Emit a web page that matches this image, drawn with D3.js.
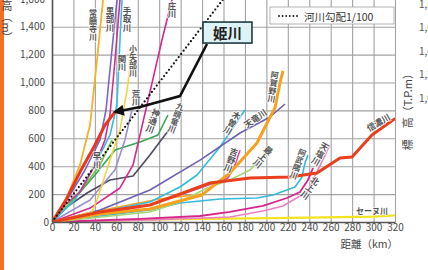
<!DOCTYPE html>
<meta charset="utf-8">
<script src="https://d3js.org/d3.v7.min.js"></script>
<style>
  body { margin: 0; background: #fff; }
  svg { display: block; font-family: "Noto Sans CJK JP", "Noto Sans", sans-serif; }
</style>
<div id="my_dataviz"></div>
<script>

// river profiles: [distance from mouth (km), elevation (m)]
var joganji  = [[0,0],[14.9,194],[26.1,409],[35.5,695],[42.0,1161],[47.6,1591],[48.5,1700]];
var kurobe   = [[0,0],[16.8,194],[30.8,373],[44.8,588],[50.4,803],[55.0,1161],[60.6,1591],[61.5,1700]];
var tedori   = [[0,0],[12.1,122],[26.1,215],[40.1,409],[49.4,588],[54.1,767],[58.8,1161],[63.4,1591],[64.5,1700]];
var sekikawa = [[0,0],[21.5,158],[40.1,409],[54.1,624],[60.6,839],[63.4,1305],[65.3,1591],[65.6,1700]];
var himekawa = [[0,0],[13.1,158],[26.1,358],[40.1,552],[49.4,695],[58.8,789]];
var oyabe    = [[0,0],[37.3,72],[42.0,158],[54.1,445],[63.4,660],[70.0,946],[75.6,1269]];
var arakawa  = [[0,0],[35.5,158],[58.8,374],[68.1,590],[74.6,805]];
var hayakawa = [[0,0],[14.9,122],[30.8,266],[44.8,409],[56.0,588]];
var shokawa  = [[0,0],[35.5,100],[63.4,244],[75.6,409],[82.1,624],[93.3,996],[102.6,1305],[111.9,1591],[113.5,1700]];
var kuzuryu  = [[0,0],[14.0,108],[32.7,208],[54.1,301],[75.6,330],[91.4,480],[105.4,624],[119.4,753]];
var jinzu    = [[0,0],[21.5,172],[40.1,337],[58.8,516],[82.1,573],[98.9,624],[108.2,767]];
var tenryu   = [[0,0],[44.8,86],[91.4,229],[138.1,444],[175.4,638],[203.4,753],[217.4,846]];
var kiso     = [[0,0],[44.8,72],[91.4,143],[119.4,251],[135.3,337],[156.7,538],[170.7,695],[180.0,803]];
var agano    = [[0,0],[44.8,57],[91.4,93],[139.9,194],[166.0,351],[191.2,566],[200.6,710],[208.0,818],[212.7,997],[215.5,1083]];
var shinano  = [[0,0],[44.8,72],[91.4,122],[122.2,208],[147.4,280],[184.7,316],[222.0,323],[247.2,351],[268.7,459],[279.9,466],[298.5,624],[318.1,731],[325,760]];
var seine    = [[0,0],[100,18],[222,29],[300,38],[320,48]];
var kitakami = [[0,0],[82.1,22],[138.1,43],[166.0,72],[196.8,115],[219.2,172],[231.3,215],[238.8,301],[243.5,387]];
var teshio   = [[0,0],[91.4,14],[166.0,36],[196.8,79],[215.5,115],[237.9,215],[248.1,373],[259.3,552]];
var abukuma  = [[0,0],[44.8,43],[91.4,86],[119.4,136],[156.7,165],[191.2,172],[206.2,194],[226.7,251],[233.2,323],[236.0,423],[238.8,480]];
var mogami   = [[0,0],[91.4,72],[119.4,143],[144.6,244],[166.0,301],[184.7,373],[196.8,466],[206.2,531]];
var yoshino  = [[0,0],[44.8,57],[91.4,122],[138.1,244],[164.2,316],[170.7,409],[175.4,516]];
var otherRiver = [[0,0],[50,90],[100,165],[140,200]];

// 1/100 river gradient reference
var gradient100 = [[0,0],[170,1700]];

var xTicks = [0,20,40,60,80,100,120,140,160,180,200,220,240,260,280,300,320];
var yTicks = [0,200,400,600,800,1000,1200,1400,1600];

// label text and where it sits (km, m)
var labelText = ["常願寺川","黒部川","手取川","小矢部川","関川","荒川","庄川","早川","神通川","九頭竜川",
                 "木曽川","吉野川","天竜川","阿賀野川","最上川","阿武隈川","天塩川","北上川","信濃川","セーヌ川"];
var labelAt   = [[38.2,1412],[54.1,1455],[70.0,1455],[75.6,1154],[65.3,1140],[78.4,889],[112,1520],[42,444],[94.2,724],[115.7,746],
                 [167.9,710],[167,444],[189.4,746],[206.2,968],[196.8,466],[229.5,416],[250,487],[240.7,244],[304.1,717],[298.5,86]];
var labelTurn = [0,0,0,0,0,0,0,0,20,20, 30,20,-35,8,40,20,30,35,-30,0];
var labelVert = [1,1,1,1,1,1,1,1,1,1, 1,1,0,1,1,1,1,1,0,0];

// line styles (drawn in this order)
var series = [
  {d: otherRiver, c: "#f5a623", w: 1.6},
  {d: seine,    c: "#f2e31e", w: 2.2},
  {d: teshio,   c: "#ea80c4", w: 1.6},
  {d: kitakami, c: "#d6258b", w: 1.8},
  {d: abukuma,  c: "#35b9db", w: 1.6},
  {d: mogami,   c: "#a3d67c", w: 1.6},
  {d: yoshino,  c: "#e0409c", w: 1.6},
  {d: kiso,     c: "#2fbbe0", w: 1.6},
  {d: tenryu,   c: "#6c61b2", w: 1.6},
  {d: kuzuryu,  c: "#4b4b5e", w: 1.6},
  {d: jinzu,    c: "#3aa655", w: 1.6},
  {d: hayakawa, c: "#6cc24a", w: 1.6},
  {d: arakawa,  c: "#9a8fd0", w: 1.6},
  {d: shokawa,  c: "#d4288c", w: 1.6},
  {d: oyabe,    c: "#f3d43e", w: 1.6},
  {d: sekikawa, c: "#2fc0e2", w: 1.6},
  {d: tedori,   c: "#d42f8e", w: 1.6},
  {d: kurobe,   c: "#7866c6", w: 1.6},
  {d: joganji,  c: "#f4b12a", w: 1.8},
  {d: agano,    c: "#f6a21e", w: 3},
  {d: shinano,  c: "#e8401c", w: 3},
  {d: himekawa, c: "#e8371e", w: 3}
];

var W = 428, H = 270;
var svg = d3.select("#my_dataviz").append("svg").attr("width", W).attr("height", H);

var x = d3.scaleLinear().domain([0, 320]).range([52, 395]);
var y = d3.scaleLinear().domain([0, 1600]).range([222, -1.2]);

// orange page edge
svg.append("rect").attr("x", 0).attr("y", 0).attr("width", 4).attr("height", H).attr("fill", "#f36f21");

// grid
svg.append("g").attr("transform", "translate(0,222)")
  .call(d3.axisBottom(x).tickValues(xTicks).tickSize(-224).tickFormat(""))
  .call(function(g) { g.select(".domain").remove(); })
  .selectAll("line").attr("stroke", "#a2a2a2").attr("stroke-width", 1.1);
svg.append("g").attr("transform", "translate(52,0)")
  .call(d3.axisLeft(y).tickValues(yTicks).tickSize(-343).tickFormat(""))
  .call(function(g) { g.select(".domain").remove(); })
  .selectAll("line").attr("stroke", "#a2a2a2").attr("stroke-width", 1.1);

// legend box
var lg = svg.append("g");
lg.append("rect").attr("x", 270).attr("y", 7).attr("width", 124).attr("height", 17)
  .attr("fill", "#fff").attr("stroke", "#a0a0a0").attr("stroke-width", 0.8);
lg.append("line").attr("x1", 279).attr("x2", 299).attr("y1", 16).attr("y2", 16)
  .attr("stroke", "#111").attr("stroke-width", 1.8).attr("stroke-linecap", "round").attr("stroke-dasharray", "0,3.6");
lg.append("text").attr("x", 304).attr("y", 16).attr("dominant-baseline", "central")
  .attr("font-size", 10.5).attr("fill", "#333").text("河川勾配1/100");

// clip to plot
svg.append("clipPath").attr("id", "plotclip").append("rect")
  .attr("x", 52).attr("y", -2).attr("width", 343).attr("height", 224);

var line = d3.line().x(function(d) { return x(d[0]); }).y(function(d) { return y(d[1]); });

var plot = svg.append("g").attr("clip-path", "url(#plotclip)");
plot.selectAll("path.river").data(series).enter().append("path")
  .attr("class", "river")
  .attr("d", function(s) { return line(s.d); })
  .attr("fill", "none")
  .attr("stroke", function(s) { return s.c; })
  .attr("stroke-width", function(s) { return s.w; })
  .attr("stroke-linejoin", "round");

plot.append("path").attr("d", line(gradient100))
  .attr("fill", "none").attr("stroke", "#111").attr("stroke-width", 2.2)
  .attr("stroke-linecap", "round").attr("stroke-dasharray", "0,4");

// axes
var xa = svg.append("g").attr("transform", "translate(0,222)")
  .call(d3.axisBottom(x).tickValues(xTicks).tickSize(0).tickPadding(2));
var ya = svg.append("g").attr("transform", "translate(52,0)")
  .call(d3.axisLeft(y).tickValues(yTicks).tickSize(0).tickPadding(7).tickFormat(d3.format(",")));
[xa, ya].forEach(function(a) {
  a.select(".domain").attr("stroke", "#555").attr("stroke-width", 1.6);
  a.selectAll("text").attr("font-size", 10).attr("fill", "#4a4a4a")
    .style("font-family", "'Noto Sans CJK JP', sans-serif");
});
ya.selectAll(".tick").filter(function(d) { return d === 0; }).select("text").attr("dx", 4);

// river labels
svg.append("g").selectAll("text").data(labelText).enter().append("text")
  .attr("transform", function(t, i) {
    return "translate(" + x(labelAt[i][0]) + "," + y(labelAt[i][1]) + ") rotate(" + labelTurn[i] + ")";
  })
  .attr("text-anchor", "middle")
  .attr("dominant-baseline", "central")
  .style("writing-mode", function(t, i) { return labelVert[i] ? "vertical-rl" : "horizontal-tb"; })
  .attr("font-size", function(t) { return t.length > 3 ? 8 : 8.5; })
  .attr("font-weight", 700)
  .attr("fill", "#555")
  .attr("stroke", "#fff").attr("stroke-width", 1.6).attr("stroke-opacity", 0.8)
  .attr("paint-order", "stroke")
  .text(function(t) { return t; });

// 姫川 callout
var tip = himekawa[himekawa.length - 1];
var callout = [[144.6,1276],[119.4,903],[82.1,824],tip];
var defs = svg.append("defs");
defs.append("marker").attr("id", "ah").attr("viewBox", "0 0 10 10")
  .attr("refX", 8).attr("refY", 5).attr("markerWidth", 12).attr("markerHeight", 11)
  .attr("markerUnits", "userSpaceOnUse").attr("orient", "auto")
  .append("path").attr("d", "M0,0L10,5L0,10z").attr("fill", "#111");
svg.append("path").attr("d", line(callout)).attr("fill", "none")
  .attr("stroke", "#111").attr("stroke-width", 2.6).attr("stroke-linejoin", "miter")
  .attr("marker-end", "url(#ah)");
var bx = x(163.7), by = y(1358);
svg.append("rect").attr("x", bx - 24.5).attr("y", by - 10.5).attr("width", 49).attr("height", 21)
  .attr("fill", "#ddf3f6").attr("stroke", "#1d3b40").attr("stroke-width", 1.6);
svg.append("text").attr("x", bx).attr("y", by).attr("text-anchor", "middle").attr("dominant-baseline", "central")
  .attr("font-size", 14.5).attr("font-weight", 700).attr("fill", "#222").text("姫川");

// axis titles
svg.append("text").attr("x", 7).attr("y", -10.5)
  .style("writing-mode", "vertical-rl").attr("font-size", 11).attr("fill", "#444").text("標高（m）");
svg.append("text").attr("x", 398).attr("y", 247.5).attr("text-anchor", "end")
  .attr("font-size", 10.5).attr("fill", "#444").text("距離（km）");

// neighbouring chart, cut at the right edge
var rightTicks = ["1,800","1,600","1,400","1,200","1,000"];
svg.append("g").selectAll("text").data(rightTicks).enter().append("text")
  .attr("x", 419).attr("y", function(d, i) { return 3 + i * 23.5; })
  .attr("dominant-baseline", "central").attr("font-size", 10).attr("fill", "#555").text(function(d) { return d; });
svg.append("text").attr("transform", "translate(407,68) rotate(-90)")
  .attr("text-anchor", "end").attr("dominant-baseline", "central")
  .attr("font-size", 11).attr("fill", "#444").text("標　高（T.P.m）");

</script>
